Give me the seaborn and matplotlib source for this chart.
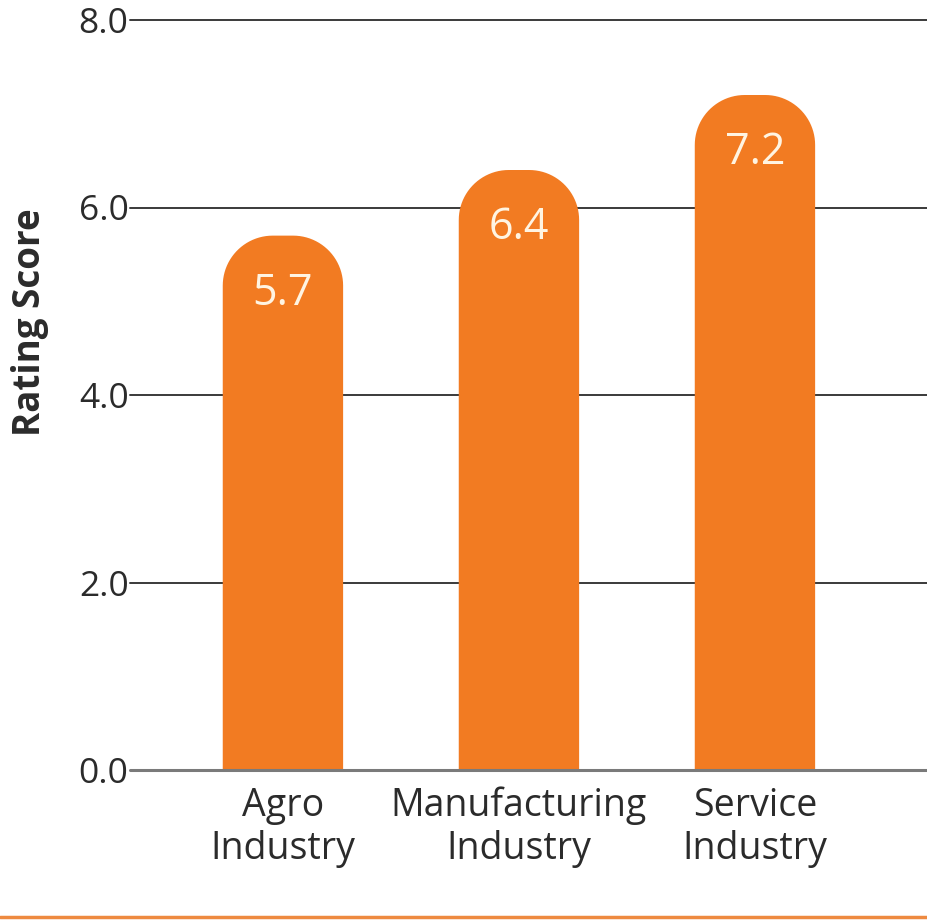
import numpy as np
import pandas as pd
import matplotlib
matplotlib.use("Agg")
import matplotlib.pyplot as plt
import seaborn as sns
from matplotlib.path import Path
from matplotlib.patches import PathPatch
from matplotlib.lines import Line2D

categories = ["Agro\nIndustry", "Manufacturing\nIndustry", "Service\nIndustry"]
scores = [5.7, 6.4, 7.2]
value_labels = ["5.7", "6.4", "7.2"]
yticks = [0.0, 2.0, 4.0, 6.0, 8.0]
ytick_labels = ["0.0", "2.0", "4.0", "6.0", "8.0"]

ORANGE = "#F27B22"
TEXT = "#2b2b2b"

sns.set_style("white")
plt.rcParams['font.family'] = ['Open Sans', 'DejaVu Sans']

W, H = 927, 923
DPI = 100
fig = plt.figure(figsize=(W / DPI, H / DPI), dpi=DPI)
ax_left, ax_right = 130 / W, 1.0
ax_bottom, ax_top = (H - 770) / H, (H - 20) / H
ax = fig.add_axes([ax_left, ax_bottom, ax_right - ax_left, ax_top - ax_bottom])

df = pd.DataFrame({"category": categories, "score": scores})
sns.barplot(data=df, x="category", y="score", color=ORANGE, width=0.51,
            saturation=1, ax=ax, zorder=3)

ax.set_xlim(-0.648, 2.729)
ax.set_ylim(0, 8)
ax.set_yticks(yticks)
ax.set_yticklabels(ytick_labels)
for s in ax.spines.values():
    s.set_visible(False)

# gridlines
for yv in yticks[1:]:
    ax.axhline(yv, color="#3a3a3a", lw=1.4, zorder=1, clip_on=False)
ax.axhline(0, color="#7a7a7a", lw=2.2, zorder=4, clip_on=False)

ax.tick_params(axis="y", length=0, pad=1, labelsize=25.5, labelcolor=TEXT)
ax.tick_params(axis="x", length=0, pad=12, labelsize=27, labelcolor=TEXT)
for lab in ax.get_xticklabels():
    lab.set_linespacing(1.18)
ax.set_xlabel("")
ax.set_ylabel("Rating Score", fontsize=26.5, fontweight="bold", color=TEXT)
ax.yaxis.set_label_coords(-0.102, 0.597)

# rounded tops
px_per_x = (ax_right - ax_left) * W / (2.729 + 0.648)
px_per_y = (ax_top - ax_bottom) * H / 8.0
r_px = 50
rx, ry = r_px / px_per_x, r_px / px_per_y
theta = np.linspace(0, np.pi / 2, 24)
for p in list(ax.patches):
    x0, w, h = p.get_x(), p.get_width(), p.get_height()
    verts = [(x0, 0), (x0, h - ry)]
    cx, cy = x0 + rx, h - ry
    verts += [(cx - rx * np.cos(t), cy + ry * np.sin(t)) for t in theta]
    cx2 = x0 + w - rx
    verts += [(cx2 + rx * np.sin(t), cy + ry * np.cos(t)) for t in theta]
    verts += [(x0 + w, 0), (x0, 0)]
    codes = [Path.MOVETO] + [Path.LINETO] * (len(verts) - 2) + [Path.CLOSEPOLY]
    ax.add_patch(PathPatch(Path(verts, codes), facecolor=ORANGE, edgecolor="none", zorder=3))
    p.set_visible(False)

for i, (v, lab) in enumerate(zip(scores, value_labels)):
    ax.annotate(lab, xy=(i, v), xytext=(0, -58 * 72 / DPI), textcoords="offset points",
                ha="center", va="center", fontsize=31, color="#FFF4E2", zorder=5)

fig.add_artist(Line2D([0, 1], [(H - 917) / H] * 2, transform=fig.transFigure,
                      color="#EE8A40", lw=2.5))

fig.savefig("out.png", dpi=DPI, facecolor="white")
